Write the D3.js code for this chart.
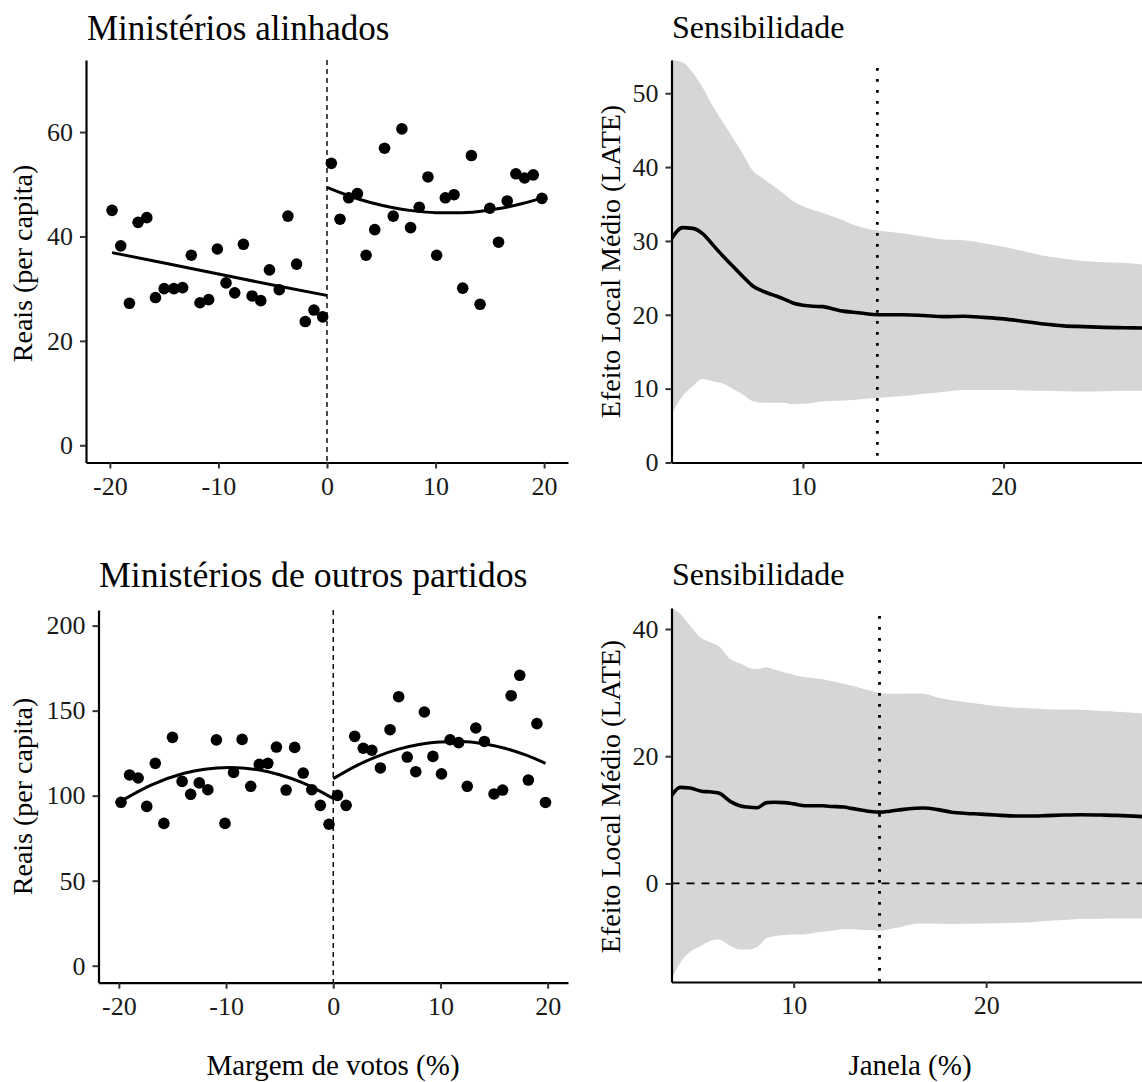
<!DOCTYPE html>
<html>
<head>
<meta charset="utf-8">
<script src="https://cdn.jsdelivr.net/npm/d3@7"></script>
<style>
  html, body { margin: 0; padding: 0; background: #ffffff; }
  svg { display: block; }
</style>
</head>
<body>
<script>
// ---------------- DATA ----------------
// Panel A: Ministérios alinhados (binned means)
const alinLeftX  = [-19.8,-19.0,-18.2,-17.4,-16.6,-15.8,-15.0,-14.1,-13.3,-12.5,-11.7,-10.9,-10.1,-9.3,-8.5,-7.7,-6.9,-6.1,-5.3,-4.4,-3.6,-2.8,-2.0,-1.2,-0.4];
const alinLeftY  = [45.0,38.2,27.2,42.7,43.6,28.3,30.0,30.0,30.2,36.4,27.3,27.9,37.6,31.1,29.2,38.5,28.6,27.7,33.6,29.8,43.9,34.7,23.7,25.9,24.6];
const alinRightX = [0.4,1.2,2.0,2.8,3.6,4.4,5.3,6.1,6.9,7.7,8.5,9.3,10.1,10.9,11.7,12.5,13.3,14.1,15.0,15.8,16.6,17.4,18.2,19.0,19.8];
const alinRightY = [54.0,43.3,47.4,48.2,36.4,41.3,56.9,43.9,60.6,41.7,45.6,51.4,36.4,47.4,48.0,30.1,55.5,27.0,45.4,38.9,46.8,52.0,51.2,51.8,47.3];
// fitted curves
const alinFitLeftX  = [-19.8,-15,-10,-5,0];
const alinFitLeftY  = [36.9,34.9,32.8,30.7,28.7];
const alinFitRightX = [0,2,4,6,8,10,12,14,16,18,19.8];
const alinFitRightY = [49.4,47.8,46.5,45.55,44.9,44.56,44.52,44.8,45.4,46.3,47.4];

// Panel B: Ministérios de outros partidos
const outLeftX  = alinLeftX;
const outLeftY  = [96.1,112.2,110.4,93.7,119.0,83.7,134.3,108.4,100.8,107.5,103.5,132.8,83.7,113.7,133.1,105.5,118.4,119.0,128.6,103.3,128.4,113.3,103.5,94.3,83.2];
const outRightX = alinRightX;
const outRightY = [100.2,94.3,134.9,127.9,126.7,116.3,138.8,158.2,122.7,114.1,149.2,123.1,112.8,132.9,131.2,105.5,139.8,131.9,101.0,103.3,158.8,170.8,109.2,142.4,96.0];
const outFitLeftX  = [-19.6,-17,-14,-12,-9.7,-7,-5,-3,-1,0];
const outFitLeftY  = [97.5,106.2,113.0,115.6,116.6,115.2,112.3,107.9,101.8,98.3];
const outFitRightX = [0,2,4,6,8,10,12,14,16,18,19.8];
const outFitRightY = [110.0,117.1,122.8,127.2,130.1,131.6,131.8,130.5,127.9,123.8,119.0];

// Sensitivity A
const sensAJanela = [3.45,4.0,4.5,5.0,5.5,6.0,6.5,7.0,7.5,8.0,8.5,9.0,9.5,10.0,10.5,11.0,11.5,12.0,12.5,13.0,13.5,14.0,15.0,16.0,17.0,18.0,19.0,20.0,21.0,22.0,23.0,24.0,25.0,26.0,27.0];
const sensALate   = [30.3,31.8,31.7,31.0,29.5,28.0,26.6,25.2,23.9,23.2,22.7,22.2,21.6,21.3,21.15,21.1,20.8,20.5,20.35,20.2,20.05,20.0,20.0,19.9,19.75,19.8,19.65,19.45,19.1,18.75,18.5,18.4,18.3,18.25,18.2];
const sensAUpper  = [54.5,54.2,52.8,50.8,48.3,46.1,44.0,41.8,39.5,38.5,37.5,36.5,35.4,34.7,34.2,33.8,33.3,32.8,32.2,31.8,31.5,31.3,31.0,30.6,30.2,30.1,29.7,29.2,28.6,28.0,27.6,27.3,27.1,27.0,26.8];
const sensALower  = [6.5,9.0,10.3,11.3,11.0,10.7,10.0,9.2,8.3,8.1,8.1,8.1,7.9,7.95,8.1,8.3,8.35,8.4,8.45,8.6,8.7,8.8,9.0,9.3,9.55,9.8,9.8,9.8,9.75,9.7,9.65,9.6,9.65,9.7,9.7];
const sensABandwidth = [13.71];

// Sensitivity B
const sensBJanela = [3.65,4.1,4.6,5.2,5.6,6.1,6.7,7.2,7.6,8.1,8.6,9.0,9.5,10.0,10.6,11.0,11.5,12.0,12.6,13.0,13.5,14.0,14.5,15.0,15.6,16.0,16.7,17.5,18.2,19.0,19.7,20.5,21.6,22.5,23.1,24.0,24.9,26.0,26.8,28.1];
const sensBLate   = [13.8,15.1,15.0,14.5,14.4,14.2,12.9,12.2,12.0,11.9,12.7,12.75,12.7,12.5,12.2,12.2,12.2,12.1,12.0,11.8,11.55,11.3,11.2,11.35,11.6,11.75,11.85,11.6,11.2,11.0,10.9,10.75,10.6,10.6,10.65,10.75,10.8,10.75,10.7,10.5];
const sensBUpper  = [43.3,42.4,40.6,38.6,38.0,37.3,35.3,34.6,34.0,33.7,34.0,33.6,33.2,32.8,32.4,32.3,32.1,31.8,31.4,31.1,30.7,30.3,29.9,29.8,29.8,29.85,29.8,29.2,28.8,28.5,28.2,27.9,27.6,27.5,27.4,27.35,27.3,27.1,27.0,26.7];
const sensBLower  = [-15.1,-12.5,-10.8,-9.8,-9.1,-8.8,-9.8,-10.4,-10.4,-10.0,-8.6,-8.3,-8.1,-8.05,-8.0,-7.8,-7.6,-7.4,-7.2,-7.2,-7.3,-7.35,-7.4,-7.15,-6.8,-6.5,-6.3,-6.35,-6.4,-6.35,-6.3,-6.25,-6.2,-6.05,-5.9,-5.75,-5.6,-5.55,-5.5,-5.5];
const sensBBandwidth = [14.46];

// tick labels
const marginTicks  = [-20,-10,0,10,20];
const alinYTicks   = [0,20,40,60];
const outYTicks    = [0,50,100,150,200];
const janelaTicks  = [10,20];
const sensAYTicks  = [0,10,20,30,40,50];
const sensBYTicks  = [0,20,40];

// texts
const titles = {
  a: "Ministérios alinhados",
  b: "Ministérios de outros partidos",
  s: "Sensibilidade"
};
const yLabelLeft  = "Reais (per capita)";
const yLabelRight = "Efeito Local Médio (LATE)";
const xLabelLeft  = "Margem de votos (%)";
const xLabelRight = "Janela (%)";

// ---------------- DRAW ----------------
const W = 1142, H = 1082;
const FONT = "'Liberation Serif', 'Times New Roman', serif";
const svg = d3.select("body").append("svg")
  .attr("width", W).attr("height", H)
  .attr("viewBox", `0 0 ${W} ${H}`)
  .style("font-family", FONT);
svg.append("rect").attr("width", W).attr("height", H).attr("fill", "#fff");

const TICK_FS = 26;

function styleAxis(g) {
  g.select(".domain").attr("stroke", "#000").attr("stroke-width", 2.2);
  g.selectAll(".tick line").attr("stroke", "#333").attr("stroke-width", 2);
  g.selectAll(".tick text").attr("fill", "#1a1a1a")
    .style("font-family", FONT).style("font-size", TICK_FS + "px");
  g.attr("font-family", null).attr("font-size", null);
}

function drawAxes(x, y, xt, yt) {
  const [x0] = x.range();
  const [yb] = y.range();
  const gx = svg.append("g").attr("transform", `translate(0,${yb})`)
    .call(d3.axisBottom(x).tickValues(xt).tickSize(6).tickSizeOuter(0).tickPadding(8).tickFormat(d => String(d)));
  styleAxis(gx);
  const gy = svg.append("g").attr("transform", `translate(${x0},0)`)
    .call(d3.axisLeft(y).tickValues(yt).tickSize(6).tickSizeOuter(0).tickPadding(7).tickFormat(d => String(d)));
  styleAxis(gy);
}

function scatterPanel(opt) {
  const x = d3.scaleLinear().domain(opt.xDomain).range(opt.xRange);
  const y = d3.scaleLinear().domain(opt.yDomain).range(opt.yRange);
  const g = svg.append("g");
  // cutoff dashed
  g.append("line").attr("x1", x(0)).attr("x2", x(0))
    .attr("y1", opt.yRange[1]).attr("y2", opt.yRange[0])
    .attr("stroke", "#000").attr("stroke-width", 1.4).attr("stroke-dasharray", "5,4");
  const pts = opt.lx.map((v, i) => [v, opt.ly[i]]).concat(opt.rx.map((v, i) => [v, opt.ry[i]]));
  g.selectAll("circle.pt").data(pts).enter().append("circle")
    .attr("cx", d => x(d[0])).attr("cy", d => y(d[1])).attr("r", 5.8).attr("fill", "#000");
  const line = d3.line().x(d => x(d[0])).y(d => y(d[1])).curve(d3.curveMonotoneX);
  [[opt.flx, opt.fly], [opt.frx, opt.fry]].forEach(([fx, fy]) => {
    g.append("path").datum(fx.map((v, i) => [v, fy[i]]))
      .attr("d", line).attr("fill", "none").attr("stroke", "#000").attr("stroke-width", 3);
  });
  drawAxes(x, y, opt.xt, opt.yt);
}

function sensPanel(opt) {
  const x = d3.scaleLinear().domain(opt.xDomain).range(opt.xRange);
  const y = d3.scaleLinear().domain(opt.yDomain).range(opt.yRange);
  const id = "clip" + opt.id;
  svg.append("clipPath").attr("id", id).append("rect")
    .attr("x", opt.xRange[0]).attr("y", opt.yRange[1])
    .attr("width", opt.xRange[1] - opt.xRange[0] + 20).attr("height", opt.yRange[0] - opt.yRange[1]);
  const g = svg.append("g").attr("clip-path", `url(#${id})`);
  const rows = opt.jx.map((v, i) => ({x: v, m: opt.late[i], lo: opt.lo[i], hi: opt.hi[i]}));
  g.append("path").datum(rows)
    .attr("d", d3.area().x(d => x(d.x)).y0(d => y(d.lo)).y1(d => y(d.hi)).curve(d3.curveMonotoneX))
    .attr("fill", "#d6d6d6");
  if (opt.zeroLine) {
    g.append("line").attr("x1", opt.xRange[0]).attr("x2", opt.xRange[1] + 20)
      .attr("y1", y(0)).attr("y2", y(0))
      .attr("stroke", "#000").attr("stroke-width", 1.8).attr("stroke-dasharray", "8,7");
  }
  g.append("path").datum(rows)
    .attr("d", d3.line().x(d => x(d.x)).y(d => y(d.m)).curve(d3.curveMonotoneX))
    .attr("fill", "none").attr("stroke", "#000").attr("stroke-width", 3.6);
  opt.bw.forEach(b => {
    g.append("line").attr("x1", x(b)).attr("x2", x(b))
      .attr("y1", opt.yRange[1] + 8).attr("y2", opt.yRange[0])
      .attr("stroke", "#000").attr("stroke-width", 2.8).attr("stroke-dasharray", "2.8,8.2");
  });
  drawAxes(x, y, opt.xt, opt.yt);
}

scatterPanel({
  xDomain: [-22.2, 22.2], xRange: [86, 568],
  yDomain: [-3.3, 73.8], yRange: [462.5, 60],
  lx: alinLeftX, ly: alinLeftY, rx: alinRightX, ry: alinRightY,
  flx: alinFitLeftX, fly: alinFitLeftY, frx: alinFitRightX, fry: alinFitRightY,
  xt: marginTicks, yt: alinYTicks
});
scatterPanel({
  xDomain: [-21.9, 21.9], xRange: [98.5, 568],
  yDomain: [-10, 209.2], yRange: [982.7, 610],
  lx: outLeftX, ly: outLeftY, rx: outRightX, ry: outRightY,
  flx: outFitLeftX, fly: outFitLeftY, frx: outFitRightX, fry: outFitRightY,
  xt: marginTicks, yt: outYTicks
});
sensPanel({
  id: "a", xDomain: [3.45, 26.9], xRange: [671.5, 1142],
  yDomain: [0, 54.5], yRange: [462.5, 60],
  jx: sensAJanela, late: sensALate, lo: sensALower, hi: sensAUpper, bw: sensABandwidth,
  xt: janelaTicks, yt: sensAYTicks, zeroLine: false
});
sensPanel({
  id: "b", xDomain: [3.65, 28.1], xRange: [671.5, 1142],
  yDomain: [-15.5, 43.3], yRange: [982, 608],
  jx: sensBJanela, late: sensBLate, lo: sensBLower, hi: sensBUpper, bw: sensBBandwidth,
  xt: janelaTicks, yt: sensBYTicks, zeroLine: true
});

// titles
function text(str, x, y, size, anchor, rotate) {
  const t = svg.append("text").text(str).attr("fill", "#000")
    .style("font-family", FONT).style("font-size", size + "px")
    .attr("text-anchor", anchor || "start");
  if (rotate) t.attr("transform", `translate(${x},${y}) rotate(-90)`);
  else t.attr("x", x).attr("y", y);
  return t;
}
text(titles.a, 87, 40, 35);
text(titles.s, 672, 38, 32);
text(titles.b, 99, 587, 35.8);
text(titles.s, 672, 585, 32);
text(yLabelLeft, 32, 263.5, 28, "middle", true);
text(yLabelLeft, 32, 796.5, 28, "middle", true);
text(yLabelRight, 620, 261.5, 28, "middle", true);
text(yLabelRight, 620, 796.5, 28, "middle", true);
text(xLabelLeft, 333, 1075, 29, "middle");
text(xLabelRight, 910, 1075, 29, "middle");
</script>
</body>
</html>
